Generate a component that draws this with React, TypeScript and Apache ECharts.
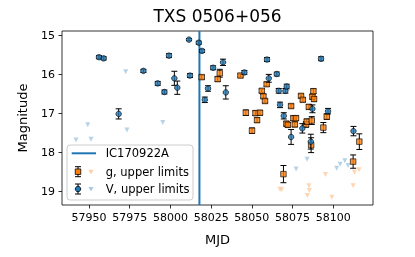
import React, { useEffect, useRef } from "react";
import * as echarts from "echarts";

const xTicks = [57950, 57975, 58000, 58025, 58050, 58075, 58100];
const yTicks = [15, 16, 17, 18, 19];
const alertMjd = 58017.8;
const alertName = "IC170922A";

const vMjd = [57956.1, 57959.0, 57968.2, 57983.4, 57992.2, 57996.3, 57999.1, 58002.4, 58004.2, 58011.4, 58012.0, 58017.4, 58019.4, 58021.1, 58023.1, 58026.2, 58032.3, 58034.0, 58045.4, 58059.3, 58060.4, 58065.3, 58066.5, 58067.3, 58069.6, 58070.6, 58071.4, 58074.1, 58081.0, 58086.2, 58087.2, 58092.5, 58096.8, 58112.4];
const vMag = [15.56, 15.59, 17.01, 15.91, 16.23, 16.45, 15.52, 16.10, 16.34, 15.11, 16.03, 15.19, 15.40, 16.65, 16.36, 15.83, 15.69, 16.46, 15.95, 15.62, 16.10, 15.99, 16.42, 16.78, 17.06, 16.42, 16.31, 17.60, 17.38, 17.72, 16.88, 15.60, 16.94, 17.45];
const vErr = [0.04, 0.04, 0.13, 0.04, 0.05, 0.05, 0.05, 0.18, 0.17, 0.03, 0.05, 0.04, 0.04, 0.07, 0.07, 0.05, 0.08, 0.17, 0.05, 0.05, 0.10, 0.05, 0.06, 0.07, 0.08, 0.06, 0.06, 0.19, 0.12, 0.19, 0.10, 0.05, 0.07, 0.12];

const gMjd = [58019.2, 58029.0, 58030.3, 58043.0, 58046.3, 58050.1, 58052.2, 58053.2, 58055.0, 58056.1, 58057.1, 58058.1, 58059.1, 58069.4, 58071.2, 58072.1, 58074.1, 58075.5, 58076.4, 58077.1, 58080.2, 58081.3, 58083.3, 58083.7, 58085.0, 58086.4, 58086.8, 58087.2, 58087.8, 58088.2, 58093.9, 58096.0, 58112.2, 58116.0];
const gMag = [16.07, 16.12, 15.97, 16.03, 16.98, 17.44, 16.99, 17.17, 16.98, 16.42, 16.56, 16.68, 16.25, 18.55, 17.26, 17.29, 16.81, 17.12, 17.28, 17.12, 16.55, 16.65, 17.28, 17.21, 16.83, 17.81, 17.18, 16.57, 16.43, 16.63, 17.36, 17.08, 18.23, 17.72];
const gErr = [0.05, 0.06, 0.10, 0.04, 0.07, 0.07, 0.06, 0.06, 0.06, 0.05, 0.05, 0.05, 0.05, 0.22, 0.06, 0.06, 0.05, 0.06, 0.06, 0.06, 0.05, 0.05, 0.07, 0.07, 0.06, 0.19, 0.10, 0.06, 0.06, 0.06, 0.13, 0.07, 0.17, 0.20];

const vLimMjd = [57942.0, 57949.2, 57951.2, 57972.5, 57973.3, 57995.3, 58077.2, 58083.9, 58102.1, 58104.2, 58107.1, 58109.1];
const vLimMag = [17.68, 17.29, 17.66, 15.93, 17.42, 17.23, 18.42, 18.17, 18.40, 18.30, 18.21, 18.33];

const gLimMjd = [58067.3, 58068.3, 58084.1, 58085.0, 58085.3, 58095.2, 58099.1, 58112.2, 58113.0, 58115.8];
const gLimMag = [18.94, 18.95, 19.10, 18.85, 18.97, 18.56, 19.14, 18.85, 18.50, 18.44];

const FONT = "DejaVu Sans";
const BLUE = "#1f77b4";
const ORANGE = "#ff7f0e";
const LBLUE = "#a5c8e1";
const LORANGE = "#ffcc9f";

const X_MIN = 57933.4;
const X_MAX = 58124.4;
const Y_MIN = 14.89;
const Y_MAX = 19.34;

function errRender(params: any, api: any) {
  const x = api.value(0);
  const y = api.value(1);
  const e = api.value(2);
  const p1 = api.coord([x, y - e]);
  const p2 = api.coord([x, y + e]);
  const cw = 3;
  const style = { stroke: "#000", lineWidth: 1 };
  return {
    type: "group",
    children: [
      { type: "line", shape: { x1: p1[0], y1: p1[1], x2: p2[0], y2: p2[1] }, style },
      { type: "line", shape: { x1: p1[0] - cw, y1: p1[1], x2: p1[0] + cw, y2: p1[1] }, style },
      { type: "line", shape: { x1: p2[0] - cw, y1: p2[1], x2: p2[0] + cw, y2: p2[1] }, style },
    ],
  };
}

export default function App() {
  const ref = useRef<HTMLDivElement>(null);
  useEffect(() => {
    const chart = echarts.init(ref.current!, null, { renderer: "svg" });
    const vErrData = vMjd.map((m, i) => [m, vMag[i], vErr[i]]);
    const gErrData = gMjd.map((m, i) => [m, gMag[i], gErr[i]]);
    const vData = vMjd.map((m, i) => [m, vMag[i]]);
    const gData = gMjd.map((m, i) => [m, gMag[i]]);
    const vLim = vLimMjd.map((m, i) => [m, vLimMag[i]]);
    const gLim = gLimMjd.map((m, i) => [m, gLimMag[i]]);

    const lx = 78;
    const legendErr = (y: number) => [
      { type: "line", shape: { x1: lx, y1: y - 5, x2: lx, y2: y + 5 }, style: { stroke: "#000", lineWidth: 1 } },
      { type: "line", shape: { x1: lx - 3, y1: y - 5, x2: lx + 3, y2: y - 5 }, style: { stroke: "#000", lineWidth: 1 } },
      { type: "line", shape: { x1: lx - 3, y1: y + 5, x2: lx + 3, y2: y + 5 }, style: { stroke: "#000", lineWidth: 1 } },
    ];
    const tri = (cx: number, cy: number, fill: string) => ({
      type: "polygon",
      shape: { points: [[cx - 2.5, cy - 2], [cx + 2.5, cy - 2], [cx, cy + 2.5]] },
      style: { fill },
    });

    chart.setOption({
      animation: false,
      grid: {
        left: 62,
        right: 42,
        top: 31,
        bottom: 52,
        show: true,
        borderColor: "#000",
        borderWidth: 0.8,
        backgroundColor: "transparent",
      },
      xAxis: {
        type: "value",
        min: X_MIN,
        max: X_MAX,
        name: "MJD",
        nameLocation: "middle",
        nameGap: 28,
        nameTextStyle: { fontFamily: FONT, fontSize: 13, color: "#000" },
        axisLine: { show: false },
        splitLine: { show: false },
        axisTick: { show: true, inside: false, length: 3.5, customValues: xTicks, lineStyle: { color: "#000", width: 0.8 } },
        axisLabel: { customValues: xTicks, formatter: (v: number) => String(Math.round(v)), fontFamily: FONT, fontSize: 11, color: "#000", margin: 7 },
      },
      yAxis: {
        type: "value",
        inverse: true,
        min: Y_MIN,
        max: Y_MAX,
        name: "Magnitude",
        nameLocation: "middle",
        nameGap: 33,
        nameTextStyle: { fontFamily: FONT, fontSize: 13, color: "#000" },
        axisLine: { show: false },
        splitLine: { show: false },
        axisTick: { show: true, inside: false, length: 3.5, customValues: yTicks, lineStyle: { color: "#000", width: 0.8 } },
        axisLabel: { customValues: yTicks, formatter: (v: number) => String(Math.round(v)), fontFamily: FONT, fontSize: 11, color: "#000", margin: 7 },
      },
      graphic: [
        {
          type: "text",
          x: 217.5,
          y: 16,
          style: { text: "TXS 0506+056", fontFamily: FONT, fontSize: 17, fill: "#000", align: "center", verticalAlign: "middle" },
        },
        {
          type: "group",
          z: 100,
          children: [
            { type: "rect", shape: { x: 67, y: 145, width: 126, height: 55, r: 3 }, style: { fill: "rgba(255,255,255,0.85)", stroke: "#cccccc", lineWidth: 1 } },
            { type: "line", shape: { x1: 71.7, y1: 153.3, x2: 96, y2: 153.3 }, style: { stroke: BLUE, lineWidth: 2 } },
            ...legendErr(171.7),
            { type: "rect", shape: { x: lx - 2.75, y: 171.7 - 2.75, width: 5.5, height: 5.5 }, style: { fill: ORANGE, stroke: "#000", lineWidth: 0.8 } },
            tri(91, 171.7, LORANGE),
            ...legendErr(189),
            { type: "circle", shape: { cx: lx, cy: 189, r: 2.75 }, style: { fill: BLUE, stroke: "#000", lineWidth: 0.8 } },
            tri(91, 189, LBLUE),
            { type: "text", x: 105.7, y: 153.3, style: { text: alertName, fontFamily: FONT, fontSize: 11.5, fill: "#000", verticalAlign: "middle" } },
            { type: "text", x: 105.7, y: 171.7, style: { text: "g, upper limits", fontFamily: FONT, fontSize: 11.5, fill: "#000", verticalAlign: "middle" } },
            { type: "text", x: 105.7, y: 189, style: { text: "V, upper limits", fontFamily: FONT, fontSize: 11.5, fill: "#000", verticalAlign: "middle" } },
          ],
        },
      ],
      series: [
        {
          type: "line",
          name: alertName,
          data: [[alertMjd, Y_MIN], [alertMjd, Y_MAX]],
          symbol: "none",
          lineStyle: { color: BLUE, width: 2 },
          z: 1,
          silent: true,
        },
        {
          type: "scatter",
          name: "V upper limits",
          data: vLim,
          symbol: "triangle",
          symbolRotate: 180,
          symbolSize: 5,
          itemStyle: { color: LBLUE },
          z: 2,
        },
        {
          type: "scatter",
          name: "g upper limits",
          data: gLim,
          symbol: "triangle",
          symbolRotate: 180,
          symbolSize: 5,
          itemStyle: { color: LORANGE },
          z: 2,
        },
        {
          type: "custom",
          name: "g err",
          data: gErrData,
          encode: { x: 0, y: 1 },
          renderItem: errRender,
          z: 3,
        },
        {
          type: "scatter",
          name: "g",
          data: gData,
          symbol: "rect",
          symbolSize: 5.5,
          itemStyle: { color: ORANGE, borderColor: "#000", borderWidth: 0.8 },
          z: 4,
        },
        {
          type: "custom",
          name: "V err",
          data: vErrData,
          encode: { x: 0, y: 1 },
          renderItem: errRender,
          z: 5,
        },
        {
          type: "scatter",
          name: "V",
          data: vData,
          symbol: "circle",
          symbolSize: 5.5,
          itemStyle: { color: BLUE, borderColor: "#000", borderWidth: 0.8 },
          z: 6,
        },
      ],
    });
    return () => chart.dispose();
  }, []);
  return <div ref={ref} style={{ position: "fixed", left: 0, top: 0, width: 415, height: 257 }} />;
}
